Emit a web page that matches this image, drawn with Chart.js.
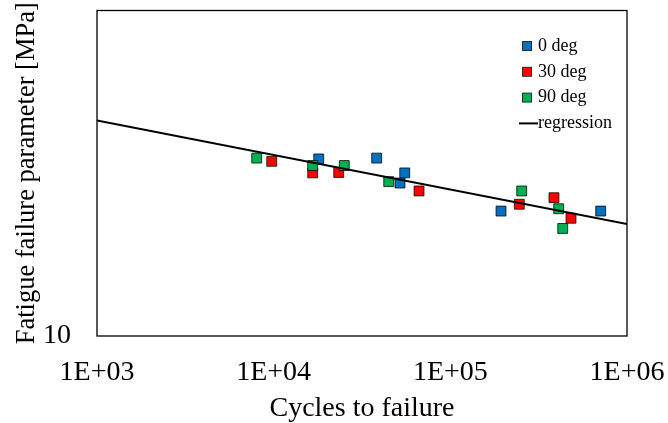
<!DOCTYPE html>
<html>
<head>
<meta charset="utf-8">
<script src="https://cdn.jsdelivr.net/npm/chart.js@4/dist/chart.umd.min.js"></script>
<style>
  body { margin: 0; background: #fff; }
  canvas { display: block; }
</style>
</head>
<body>
<canvas id="fatigueChart" width="668" height="423"></canvas>
<script>
// values
const deg0Cycles = [17990, 38300, 55200, 51900, 193600, 709800];
const deg0Stress = [35.0, 35.2, 31.7, 29.5, 24.2, 24.2];
const deg30Cycles = [9750, 16630, 23350, 66500, 245700, 386000, 482000];
const deg30Stress = [34.4, 31.7, 31.8, 27.9, 25.4, 26.6, 23.0];
const deg90Cycles = [8017, 16630, 25100, 44800, 253500, 410500, 432600];
const deg90Stress = [35.2, 33.4, 33.4, 29.8, 27.9, 24.6, 21.4];
const regCycles = [1000, 1000000];
const regStress = [45.9, 22.1];
const xTickValues = [1000, 10000, 100000, 1000000];
const yTickValues = [10];

const serif = "'Liberation Serif', 'Times New Roman', serif";

function toPoints(xs, ys) {
  return xs.map((x, i) => ({ x: x, y: ys[i] }));
}

function markerSet(label, xs, ys, color, order) {
  return {
    label: label,
    data: toPoints(xs, ys),
    backgroundColor: color,
    borderColor: "rgba(0,0,0,0.75)",
    borderWidth: 1,
    pointStyle: "rect",
    pointRadius: 7,
    pointHoverRadius: 7,
    showLine: false,
    order: order
  };
}

// drop the automatic label overhang padding, layout padding does the job
function noPad(s) {
  s.paddingTop = 0;
  s.paddingBottom = 0;
  s.paddingLeft = 0;
  s.paddingRight = 0;
}

// plot frame + legend inside the chart area
const framePlugin = {
  id: "frameAndLegend",
  afterDatasetsDraw(chart) {
    const ctx = chart.ctx;
    const a = chart.chartArea;
    ctx.save();
    ctx.strokeStyle = "#000";
    ctx.lineWidth = 1.3;
    ctx.strokeRect(a.left, a.top, a.right - a.left, a.bottom - a.top);

    const x0 = a.right - 100;
    const textX = a.right - 89;
    let y = a.top + 35.5;
    ctx.font = "18px " + serif;
    ctx.textBaseline = "middle";
    ctx.fillStyle = "#000";
    chart.data.datasets.forEach(ds => {
      if (ds.showLine) {
        ctx.beginPath();
        ctx.moveTo(x0 - 8, y);
        ctx.lineTo(textX, y);
        ctx.lineWidth = 2;
        ctx.strokeStyle = "#000";
        ctx.stroke();
      } else {
        ctx.fillStyle = ds.backgroundColor;
        ctx.fillRect(x0 - 4.5, y - 4.5, 9, 9);
        ctx.lineWidth = 1;
        ctx.strokeStyle = "rgba(0,0,0,0.75)";
        ctx.strokeRect(x0 - 4.5, y - 4.5, 9, 9);
        ctx.fillStyle = "#000";
      }
      ctx.fillText(ds.label, textX, y);
      y += 25.8;
    });
    ctx.restore();
  }
};

new Chart(document.getElementById("fatigueChart"), {
  type: "scatter",
  data: {
    datasets: [
      markerSet("0 deg", deg0Cycles, deg0Stress, "#0070C0", 3),
      markerSet("30 deg", deg30Cycles, deg30Stress, "#FF0000", 2),
      markerSet("90 deg", deg90Cycles, deg90Stress, "#00B050", 1),
      {
        label: "regression",
        data: toPoints(regCycles, regStress),
        showLine: true,
        borderColor: "#000",
        borderWidth: 2,
        pointRadius: 0,
        pointHoverRadius: 0,
        fill: false,
        order: 0
      }
    ]
  },
  options: {
    responsive: false,
    animation: false,
    layout: { padding: { top: 10.5, right: 41, left: 0, bottom: 0 } },
    plugins: {
      legend: { display: false },
      tooltip: { enabled: false }
    },
    scales: {
      x: {
        type: "logarithmic",
        min: 1000,
        max: 1000000,
        afterBuildTicks: s => { s.ticks = xTickValues.map(v => ({ value: v })); },
        afterFit: s => { s.height = 87; noPad(s); },
        grid: { display: false, drawTicks: false },
        border: { display: false },
        ticks: {
          autoSkip: false,
          maxRotation: 0,
          padding: 20,
          color: "#000",
          font: { family: serif, size: 28 },
          callback: v => "1E+" + String(Math.round(Math.log10(v))).padStart(2, "0")
        },
        title: {
          display: true,
          text: "Cycles to failure",
          color: "#000",
          font: { family: serif, size: 28, lineHeight: 1 },
          padding: { top: 0, bottom: 0 }
        }
      },
      y: {
        type: "logarithmic",
        min: 10,
        max: 100,
        afterBuildTicks: s => { s.ticks = yTickValues.map(v => ({ value: v })); },
        afterFit: s => { s.width = 97; noPad(s); },
        grid: { display: false, drawTicks: false },
        border: { display: false },
        ticks: {
          padding: 26,
          color: "#000",
          font: { family: serif, size: 28 },
          callback: v => String(v)
        },
        title: {
          display: true,
          text: "Fatigue failure parameter [MPa]",
          color: "#000",
          font: { family: serif, size: 26.5 },
          padding: { top: 11, bottom: 0 }
        }
      }
    }
  },
  plugins: [framePlugin]
});
</script>
</body>
</html>
